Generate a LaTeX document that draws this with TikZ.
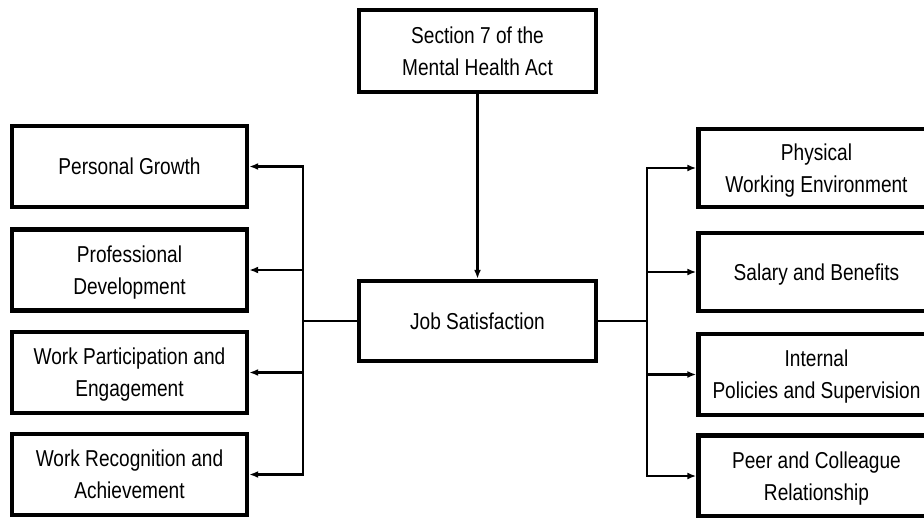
\documentclass[tikz,border=0pt]{standalone}
\usepackage{fontspec}
\setmainfont{Liberation Sans}[FakeStretch=0.83]
\usetikzlibrary{arrows.meta}
\begin{document}
\begin{tikzpicture}[x=1pt, y=-1pt,
    every node/.style = {font=\fontsize{23}{32}\selectfont, align=center, text depth=0pt},
    factorbox/.style = {draw, line width=4.4pt, minimum width=235pt, minimum height=81pt, inner sep=0pt},
    link/.style = {line width=2.2pt, -{Latex[length=9pt,width=7pt]}},
    ]
    \useasboundingbox (0,0) rectangle (924,517);
    % centre column
    \node [factorbox, minimum width=237pt, minimum height=82pt] (act) at (477.5,51) {Section 7 of the\\Mental Health Act};
    \node [factorbox, minimum width=237pt, minimum height=80pt] (job) at (477.5,321) {Job Satisfaction};
    % left side
    \node [factorbox] (growth) at (129.5,166.5) {Personal Growth};
    \node [factorbox] (develop) at (129.5,270) {Professional\\Development};
    \node [factorbox] (engage) at (129.5,372.5) {Work Participation and\\Engagement};
    \node [factorbox] (achieve) at (129.5,474.5) {Work Recognition and\\Achievement};
    % right side
    \node [factorbox, minimum width=236pt, minimum height=78pt] (physical) at (816.5,168) {Physical\\Working Environment};
    \node [factorbox, minimum width=236pt, minimum height=78pt] (salary) at (816.5,272) {Salary and Benefits};
    \node [factorbox, minimum width=236pt, minimum height=81pt] (policies) at (816.5,374.5) {Internal\\Policies and Supervision};
    \node [factorbox, minimum width=236pt, minimum height=81pt] (peers) at (816.5,476) {Peer and Colleague\\Relationship};
    \coordinate (lbus) at (303,321);
    \coordinate (rbus) at (647,321);
    \draw [link] (act) -- (job);
    \foreach \f in {growth, develop, engage, achieve}
      \draw [link] (job.west) -- (lbus) |- (\f.east);
    \foreach \f in {physical, salary, policies, peers}
      \draw [link] (job.east) -- (rbus) |- (\f.west);
\end{tikzpicture}
\end{document}
